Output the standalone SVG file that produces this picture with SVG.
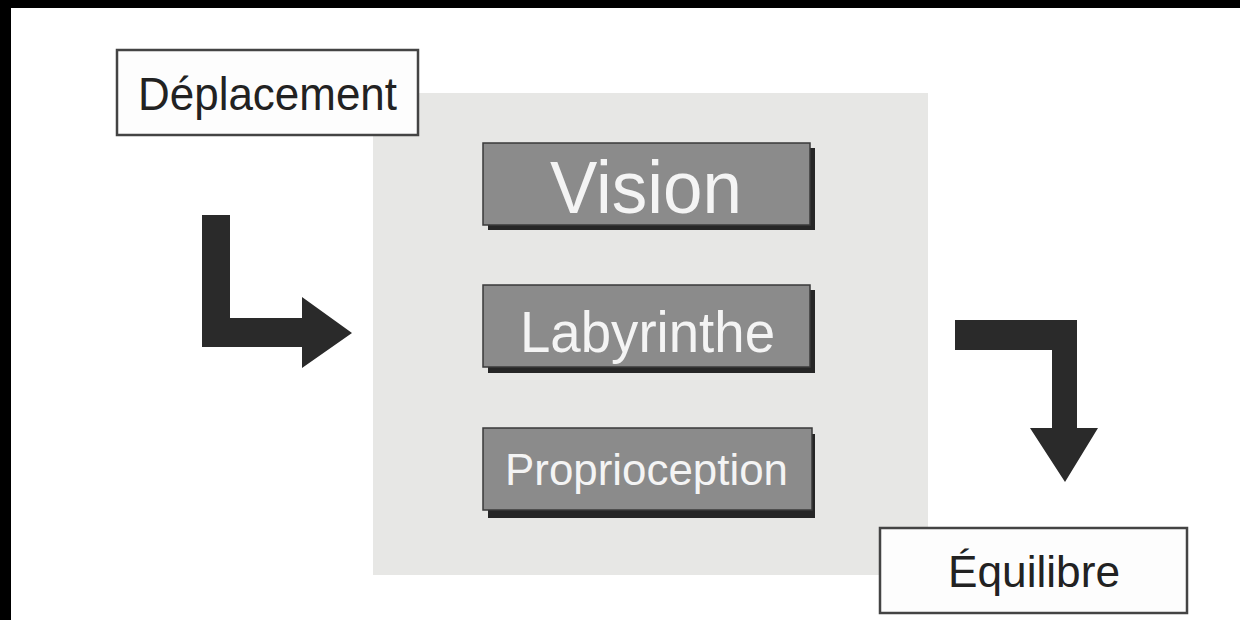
<svg xmlns="http://www.w3.org/2000/svg" width="1240" height="620" viewBox="0 0 1240 620">
  <style>
    .lbl { font-family: "Liberation Sans", Arial, sans-serif; fill: #222; }
    .wlbl { font-family: "Liberation Sans", Arial, sans-serif; fill: #f4f4f4; }
    .wbox { fill: #fdfdfd; stroke: #444; stroke-width: 2.5; }
    .gbox { fill: #8b8b8b; stroke: #3a3a3a; stroke-width: 1.5; }
    .shadow { fill: #262626; }
    .arrow { fill: #2a2a2a; }
  </style>
  <rect x="0" y="0" width="1240" height="620" fill="#ffffff"/>
  <rect x="0" y="0" width="1240" height="8" fill="#000"/>
  <rect x="0" y="0" width="11" height="620" fill="#000"/>

  <g id="panel">
    <rect x="373" y="93" width="555" height="482" fill="#e7e7e5"/>
  </g>

  <g id="deplacement">
    <rect class="wbox" x="117" y="50" width="301" height="85"/>
    <text class="lbl" x="138" y="110" font-size="46" textLength="259" lengthAdjust="spacingAndGlyphs">Déplacement</text>
  </g>

  <g id="vision">
    <rect class="shadow" x="488" y="148" width="327" height="82"/>
    <rect class="gbox" x="483" y="143" width="327" height="82"/>
    <text class="wlbl" x="550" y="213" font-size="74" textLength="192" lengthAdjust="spacingAndGlyphs">Vision</text>
  </g>

  <g id="labyrinthe">
    <rect class="shadow" x="488" y="290" width="327" height="83"/>
    <rect class="gbox" x="483" y="285" width="327" height="82"/>
    <text class="wlbl" x="520" y="352" font-size="58" textLength="255" lengthAdjust="spacingAndGlyphs">Labyrinthe</text>
  </g>

  <g id="proprioception">
    <rect class="shadow" x="488" y="434" width="327" height="84"/>
    <rect class="gbox" x="483" y="428" width="329" height="82"/>
    <text class="wlbl" x="505" y="485" font-size="44" textLength="283" lengthAdjust="spacingAndGlyphs">Proprioception</text>
  </g>

  <g id="equilibre">
    <rect class="wbox" x="880" y="528" width="307" height="85"/>
    <text class="lbl" x="948" y="587" font-size="44" textLength="172" lengthAdjust="spacingAndGlyphs">Équilibre</text>
  </g>

  <g id="connectors">
    <path class="arrow" d="M202,215 L230,215 L230,318 L302,318 L302,297 L352,333 L302,368 L302,347 L202,347 Z"/>
    <path class="arrow" d="M955,320 L1077,320 L1077,428 L1098,428 L1065,482 L1030,428 L1052,428 L1052,350 L955,350 Z"/>
  </g>
</svg>
